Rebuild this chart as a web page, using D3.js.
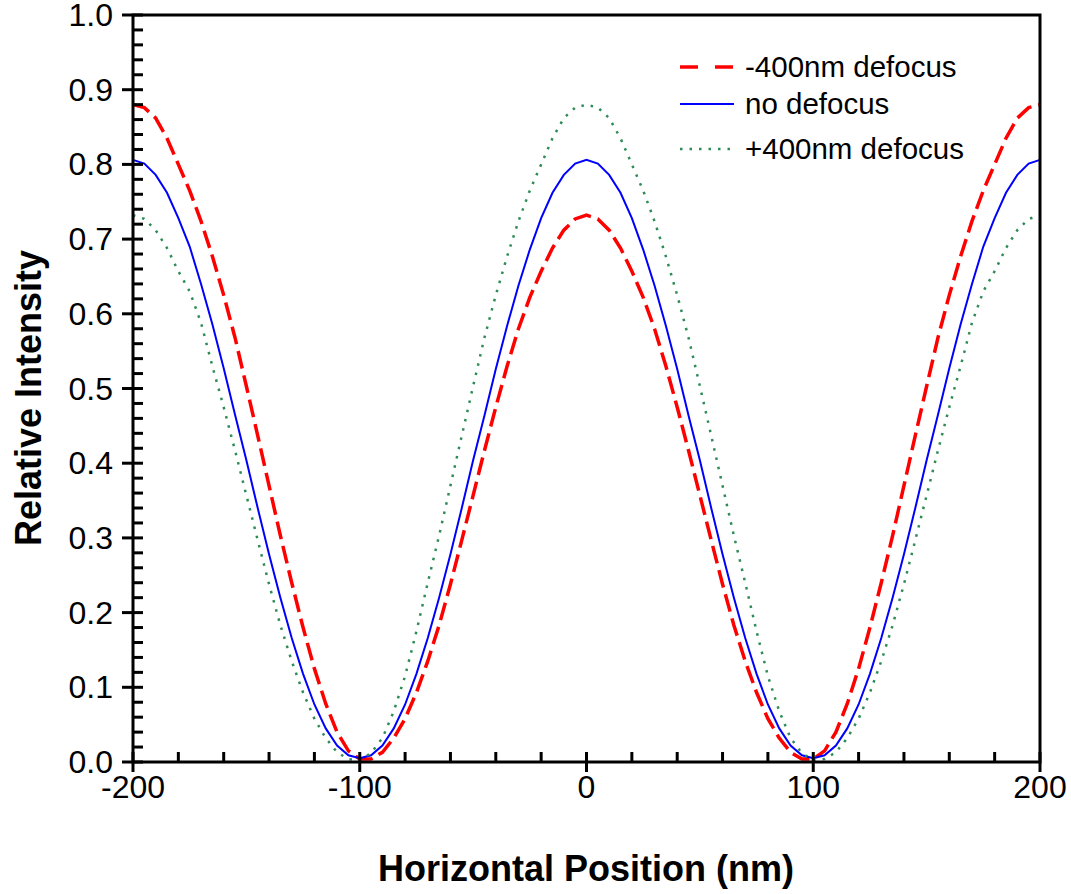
<!DOCTYPE html>
<html>
<head>
<meta charset="utf-8">
<script src="https://cdn.jsdelivr.net/npm/d3@7"></script>
<style>
  body { margin: 0; background: #fff; }
  text { font-family: "Liberation Sans", Arial, sans-serif; fill: #000; }
</style>
</head>
<body>
<div id="chart"></div>
<script>
var w = 1071,
  h = 894;

// horizontal position, nm
var positions = d3.range(-200, 201, 5);

var minusDefocus = [
  0.880, 0.876, 0.862, 0.835, 0.800, 0.765, 0.724, 0.677, 0.625, 0.568,
  0.503, 0.437, 0.370, 0.303, 0.240, 0.180, 0.125, 0.078, 0.040, 0.015,
  0.004, 0.004, 0.013, 0.032, 0.058, 0.093, 0.135, 0.183, 0.238, 0.297,
  0.357, 0.417, 0.475, 0.530, 0.580, 0.622, 0.657, 0.688, 0.712, 0.727,
  0.732,
  0.727, 0.712, 0.688, 0.657, 0.622, 0.580, 0.530, 0.475, 0.417, 0.357,
  0.297, 0.238, 0.183, 0.135, 0.093, 0.058, 0.032, 0.013, 0.004, 0.004,
  0.015, 0.040, 0.078, 0.125, 0.180, 0.240, 0.303, 0.370, 0.437, 0.503,
  0.568, 0.625, 0.677, 0.724, 0.765, 0.800, 0.835, 0.862, 0.876, 0.880
];

var noDefocus = [
  0.806, 0.801, 0.786, 0.762, 0.728, 0.690, 0.640, 0.586, 0.527, 0.465,
  0.404, 0.340, 0.278, 0.220, 0.166, 0.118, 0.077, 0.045, 0.022, 0.009,
  0.005, 0.009, 0.022, 0.045, 0.077, 0.118, 0.166, 0.220, 0.278, 0.340,
  0.404, 0.464, 0.526, 0.584, 0.638, 0.686, 0.728, 0.762, 0.786, 0.801,
  0.806,
  0.801, 0.786, 0.762, 0.728, 0.686, 0.638, 0.584, 0.526, 0.464, 0.404,
  0.340, 0.278, 0.220, 0.166, 0.118, 0.077, 0.045, 0.022, 0.009, 0.005,
  0.009, 0.022, 0.045, 0.077, 0.118, 0.166, 0.220, 0.278, 0.340, 0.404,
  0.465, 0.527, 0.586, 0.640, 0.690, 0.728, 0.762, 0.786, 0.801, 0.806
];

var plusDefocus = [
  0.732, 0.727, 0.712, 0.688, 0.657, 0.630, 0.588, 0.530, 0.475, 0.417,
  0.357, 0.297, 0.238, 0.183, 0.135, 0.093, 0.058, 0.032, 0.013, 0.004,
  0.002, 0.012, 0.032, 0.068, 0.115, 0.175, 0.240, 0.303, 0.370, 0.437,
  0.503, 0.568, 0.625, 0.677, 0.724, 0.765, 0.800, 0.835, 0.862, 0.876,
  0.880,
  0.876, 0.862, 0.835, 0.800, 0.765, 0.724, 0.677, 0.625, 0.568, 0.503,
  0.437, 0.370, 0.303, 0.240, 0.175, 0.115, 0.068, 0.032, 0.012, 0.002,
  0.004, 0.013, 0.032, 0.058, 0.093, 0.135, 0.183, 0.238, 0.297, 0.357,
  0.417, 0.475, 0.530, 0.588, 0.630, 0.657, 0.688, 0.712, 0.727, 0.732
];

var seriesNames = ["-400nm defocus", "no defocus", "+400nm defocus"];
var xTicks = [-200, -100, 0, 100, 200];
var yTicks = [0, 0.1, 0.2, 0.3, 0.4, 0.5, 0.6, 0.7, 0.8, 0.9, 1.0];

var series = [
  { name: seriesNames[0], values: minusDefocus, color: "#ff0000", width: 3.5, dash: "18,7" },
  { name: seriesNames[1], values: noDefocus, color: "#0000ff", width: 2, dash: null },
  { name: seriesNames[2], values: plusDefocus, color: "#2e8b57", width: 2.5, dash: "2.5,7" }
];

var plotLeft = 133, plotRight = 1040, plotTop = 15, plotBottom = 762;

var x = d3.scaleLinear().domain([-200, 200]).range([plotLeft, plotRight]);
var y = d3.scaleLinear().domain([0, 1]).range([plotBottom, plotTop]);

var svg = d3.select("#chart")
  .append("svg")
  .attr("width", w)
  .attr("height", h);

// curves
var line = d3.line()
  .x(function(d, i) { return x(positions[i]); })
  .y(function(d) { return y(d); });

svg.append("g")
  .attr("class", "curves")
  .selectAll("path")
  .data(series)
  .enter()
  .append("path")
  .attr("fill", "none")
  .attr("stroke", d => d.color)
  .attr("stroke-width", d => d.width)
  .attr("stroke-dasharray", d => d.dash)
  .attr("d", d => line(d.values));

// frame
svg.append("rect")
  .attr("x", plotLeft)
  .attr("y", plotTop)
  .attr("width", plotRight - plotLeft)
  .attr("height", plotBottom - plotTop)
  .attr("fill", "none")
  .attr("stroke", "#000")
  .attr("stroke-width", 3);

// x ticks: major cross the axis, minor inside
var xMinor = d3.range(-200, 201, 20).filter(v => xTicks.indexOf(v) < 0);
svg.append("g").selectAll("line")
  .data(xMinor)
  .enter().append("line")
  .attr("x1", d => x(d)).attr("x2", d => x(d))
  .attr("y1", plotBottom).attr("y2", plotBottom - 10)
  .attr("stroke", "#000").attr("stroke-width", 3);

svg.append("g").selectAll("line")
  .data(xTicks)
  .enter().append("line")
  .attr("x1", d => x(d)).attr("x2", d => x(d))
  .attr("y1", plotBottom - 10).attr("y2", plotBottom + 10)
  .attr("stroke", "#000").attr("stroke-width", 3);

svg.append("g").selectAll("text")
  .data(xTicks)
  .enter().append("text")
  .attr("x", d => x(d))
  .attr("y", plotBottom + 36)
  .attr("text-anchor", "middle")
  .attr("font-size", 32)
  .text(d => d);

// y ticks
var yMinor = d3.range(0, 51, 1).filter(v => v % 5 !== 0).map(v => v / 50);
svg.append("g").selectAll("line")
  .data(yMinor)
  .enter().append("line")
  .attr("x1", plotLeft).attr("x2", plotLeft + 10)
  .attr("y1", d => y(d)).attr("y2", d => y(d))
  .attr("stroke", "#000").attr("stroke-width", 3);

svg.append("g").selectAll("line")
  .data(yTicks)
  .enter().append("line")
  .attr("x1", plotLeft - 11).attr("x2", plotLeft + 10)
  .attr("y1", d => y(d)).attr("y2", d => y(d))
  .attr("stroke", "#000").attr("stroke-width", 3);

svg.append("g").selectAll("text")
  .data(yTicks)
  .enter().append("text")
  .attr("x", plotLeft - 20)
  .attr("y", d => y(d) + 11)
  .attr("text-anchor", "end")
  .attr("font-size", 32)
  .text(d => d3.format(".1f")(d));

// axis titles
svg.append("text")
  .attr("x", 586)
  .attr("y", 881)
  .attr("text-anchor", "middle")
  .attr("font-size", 36)
  .attr("font-weight", "bold")
  .text("Horizontal Position (nm)");

svg.append("text")
  .attr("transform", "translate(41,398) rotate(-90)")
  .attr("text-anchor", "middle")
  .attr("font-size", 36)
  .attr("font-weight", "bold")
  .text("Relative Intensity");

// legend
var legend = svg.append("g")
  .selectAll("g")
  .data(series)
  .enter().append("g")
  .attr("transform", (d, i) => "translate(680," + [67, 104, 149][i] + ")");

legend.append("line")
  .attr("x1", 0).attr("x2", 54)
  .attr("stroke", d => d.color)
  .attr("stroke-width", d => d.width)
  .attr("stroke-dasharray", (d, i) => i === 0 ? "18,17" : d.dash);

legend.append("text")
  .attr("x", 65)
  .attr("y", 10)
  .attr("font-size", 29.5)
  .text(d => d.name);
</script>
</body>
</html>
